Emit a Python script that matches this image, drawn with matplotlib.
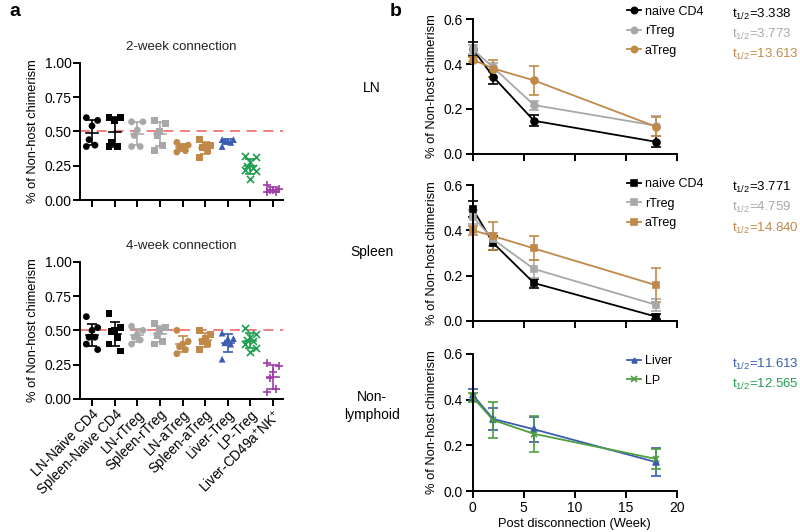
import numpy as np
import matplotlib
matplotlib.use("Agg")
import matplotlib.pyplot as plt
from matplotlib.lines import Line2D

plt.rcParams['font.family'] = ['Liberation Sans', 'DejaVu Sans']
plt.rcParams['mathtext.fontset'] = 'custom'
plt.rcParams['mathtext.rm'] = 'Liberation Sans'
plt.rcParams['mathtext.it'] = 'Liberation Sans:italic'
plt.rcParams['mathtext.bf'] = 'Liberation Sans:bold'

# ---------------- data: panel a ----------------
categories = ["LN-Naive CD4", "Spleen-Naive CD4", "LN-rTreg", "Spleen-rTreg",
              "LN-aTreg", "Spleen-aTreg", "Liver-Treg", "LP-Treg",
              "Liver-CD49a$^{+}$NK$^{+}$"]
wk2_values = [
    [0.60, 0.58, 0.54, 0.44, 0.39, 0.40],
    [0.60, 0.60, 0.58, 0.42, 0.39, 0.39],
    [0.57, 0.57, 0.51, 0.47, 0.39, 0.39],
    [0.58, 0.56, 0.50, 0.47, 0.40, 0.36],
    [0.42, 0.40, 0.39, 0.38, 0.36, 0.35],
    [0.44, 0.40, 0.39, 0.38, 0.36, 0.31],
    [0.44, 0.44, 0.43, 0.43, 0.42, 0.39],
    [0.32, 0.31, 0.28, 0.25, 0.23, 0.21, 0.22, 0.15],
    [0.11, 0.08, 0.07, 0.07, 0.06, 0.06],
]
wk4_values = [
    [0.60, 0.52, 0.50, 0.45, 0.45, 0.40, 0.36],
    [0.62, 0.52, 0.50, 0.49, 0.45, 0.40, 0.35],
    [0.53, 0.50, 0.47, 0.45, 0.43, 0.40],
    [0.55, 0.52, 0.50, 0.46, 0.42, 0.40],
    [0.50, 0.42, 0.40, 0.38, 0.36, 0.33],
    [0.50, 0.47, 0.44, 0.42, 0.40, 0.36],
    [0.48, 0.44, 0.44, 0.41, 0.40, 0.29],
    [0.52, 0.47, 0.45, 0.43, 0.42, 0.40, 0.37, 0.34],
    [0.26, 0.24, 0.20, 0.15, 0.07, 0.05],
]
cat_colors = ["black", "black", "#a8a8a8", "#a8a8a8", "#c0894a", "#c0894a",
              "#3a5cb0", "#1e9e4e", "#a03ca8"]
cat_markers = ["o", "s", "o", "s", "o", "s", "^", "x", "+"]

# ---------------- data: panel b ----------------
weeks = [0, 2, 6, 18]
ln_naive = [0.467, 0.343, 0.147, 0.053]
ln_naive_err = [0.033, 0.032, 0.025, 0.025]
ln_rtreg = [0.465, 0.385, 0.217, 0.125]
ln_rtreg_err = [0.02, 0.02, 0.02, 0.045]
ln_atreg = [0.42, 0.38, 0.327, 0.12]
ln_atreg_err = [0.01, 0.04, 0.063, 0.043]

sp_naive = [0.494, 0.344, 0.167, 0.018]
sp_naive_err = [0.035, 0.03, 0.02, 0.01]
sp_rtreg = [0.46, 0.36, 0.229, 0.07]
sp_rtreg_err = [0.03, 0.03, 0.04, 0.025]
sp_atreg = [0.40, 0.375, 0.32, 0.157]
sp_atreg_err = [0.02, 0.062, 0.053, 0.076]

nl_liver = [0.42, 0.315, 0.27, 0.126]
nl_liver_err = [0.025, 0.05, 0.055, 0.06]
nl_lp = [0.41, 0.31, 0.25, 0.14]
nl_lp_err = [0.02, 0.08, 0.08, 0.045]

halflife_ln = ["3.338", "3.773", "13.613"]
halflife_sp = ["3.771", "4.759", "14.840"]
halflife_nl = ["11.613", "12.565"]

BLACK = "black"
GRAY = "#a8a8a8"
BROWN = "#c0894a"
BLUE = "#3a5cb0"
GREEN = "#4e9e3e"
TEXT_GREEN = "#1e9e4e"

fig = plt.figure(figsize=(8, 5.32), dpi=100)


def style_axes(ax, labelsize, pad=2):
    for s in ["top", "right"]:
        ax.spines[s].set_visible(False)
    for s in ["left", "bottom"]:
        ax.spines[s].set_linewidth(1.4)
    ax.tick_params(width=1.4, length=5, labelsize=labelsize, pad=pad)


def jitter_offsets(vals):
    pattern = [-0.25, 0.25, 0.0, -0.13, 0.13, -0.25, 0.25, 0.0]
    order = np.argsort(vals)[::-1]
    offs = np.zeros(len(vals))
    for rank, idx in enumerate(order):
        offs[idx] = pattern[rank % len(pattern)]
    return offs


def scatter_panel(ax, data, title, show_labels):
    style_axes(ax, 10, pad=1)
    ax.axhline(0.5, color="#f06a6a", lw=1.2, dashes=(6, 4), zorder=1)
    for i, vals in enumerate(data):
        vals = np.array(vals)
        x = i + jitter_offsets(vals)
        mk = cat_markers[i]
        kw = dict(color=cat_colors[i], zorder=3)
        if mk in ("x", "+"):
            ax.scatter(x, vals, marker=mk, s=26, linewidths=1.2, **kw)
        else:
            ax.scatter(x, vals, marker=mk, s=24, edgecolors="none", **kw)
        m = vals.mean()
        sd = vals.std(ddof=1)
        ax.plot([i - 0.27, i + 0.27], [m, m], color=cat_colors[i], lw=1.2, zorder=4)
        ax.errorbar([i], [m], yerr=[sd], color=cat_colors[i], capsize=3.5,
                    elinewidth=1.2, capthick=1.2, fmt="none", zorder=4)
    ax.set_xlim(-0.53, 8.45)
    ax.set_ylim(0, 1.0)
    ax.set_yticks([0, 0.25, 0.5, 0.75, 1.0])
    ax.set_yticklabels(["0.00", "0.25", "0.50", "0.75", "1.00"])
    ax.set_xticks(range(len(categories)))
    if show_labels:
        ax.set_xticklabels(categories, rotation=45, ha="right",
                           rotation_mode="anchor", fontsize=9.8)
    else:
        ax.set_xticklabels([])
    ax.set_ylabel("% of Non-host chimerism", fontsize=9.3, labelpad=4)
    ax.set_title(title, fontsize=9.5, pad=9, color="#222222")


axA1 = fig.add_axes([0.100, 0.624, 0.254, 0.258])
scatter_panel(axA1, wk2_values, "2-week connection", False)
axA2 = fig.add_axes([0.100, 0.250, 0.254, 0.258])
scatter_panel(axA2, wk4_values, "4-week connection", True)


def line_panel(ax, series, show_x, legend_y):
    style_axes(ax, 10)
    handles = []
    for vals, err, color, mk, ms, label in series:
        ax.errorbar(weeks, vals, yerr=err, color=color, marker=mk, ms=ms,
                    lw=1.3, capsize=3.5, elinewidth=1.2, capthick=1.2, mew=1.2,
                    clip_on=False)
        handles.append(Line2D([], [], color=color, marker=mk, ms=ms - 0.5,
                              lw=1.3, mew=1.2, label=label))
    ax.set_xlim(0, 20)
    ax.set_ylim(0, 0.6)
    ax.set_yticks([0, 0.2, 0.4, 0.6])
    ax.set_yticklabels(["0.0", "0.2", "0.4", "0.6"])
    ax.set_xticks([0, 5, 10, 15, 20])
    if not show_x:
        ax.set_xticklabels([])
    else:
        ax.set_xlabel("Post disconnection (Week)", fontsize=9.3, labelpad=2)
    ax.set_ylabel("% of Non-host chimerism", fontsize=9.3, labelpad=4)
    ax.legend(handles=handles, loc="upper left", bbox_to_anchor=(0.755, legend_y),
              frameon=False, fontsize=9, handlelength=1.1, handletextpad=0.35,
              labelspacing=0.6, borderaxespad=0, borderpad=0)


def half_life_texts(ys, vals, colors):
    for y, v, c in zip(ys, vals, colors):
        fig.text(732 / 800, 1 - y / 532, "t$_{1/2}$=" + v, color=c,
                 fontsize=9.5, va="center", ha="left")


axB1 = fig.add_axes([0.591, 0.711, 0.255, 0.253])
line_panel(axB1, [
    (ln_naive, ln_naive_err, BLACK, "o", 5, "naive CD4"),
    (ln_rtreg, ln_rtreg_err, GRAY, "o", 5, "rTreg"),
    (ln_atreg, ln_atreg_err, BROWN, "o", 5, "aTreg"),
], False, 1.10)
half_life_texts([14, 34, 54], halflife_ln, [BLACK, GRAY, BROWN])

axB2 = fig.add_axes([0.591, 0.397, 0.255, 0.255])
line_panel(axB2, [
    (sp_naive, sp_naive_err, BLACK, "s", 5, "naive CD4"),
    (sp_rtreg, sp_rtreg_err, GRAY, "s", 5, "rTreg"),
    (sp_atreg, sp_atreg_err, BROWN, "s", 5, "aTreg"),
], False, 1.05)
half_life_texts([187, 207, 228], halflife_sp, [BLACK, GRAY, BROWN])

axB3 = fig.add_axes([0.591, 0.077, 0.255, 0.258])
line_panel(axB3, [
    (nl_liver, nl_liver_err, BLUE, "^", 4, "Liver"),
    (nl_lp, nl_lp_err, GREEN, "x", 5, "LP"),
], True, 0.99)
half_life_texts([364, 384], halflife_nl, [BLUE, TEXT_GREEN])

# row labels and panel letters
fig.text(0.465, 1 - 88 / 532, "LN", fontsize=10, ha="center", va="center")
fig.text(0.465, 1 - 252 / 532, "Spleen", fontsize=10, ha="center", va="center")
fig.text(0.465, 1 - 406 / 532, "Non-\nlymphoid", fontsize=10, ha="center",
         va="center", linespacing=1.3)
fig.text(0.012, 1 - 12 / 532, "a", fontsize=14, fontweight="bold", va="center")
fig.text(0.487, 1 - 12 / 532, "b", fontsize=14, fontweight="bold", va="center")

fig.savefig("out.png", dpi=100)
